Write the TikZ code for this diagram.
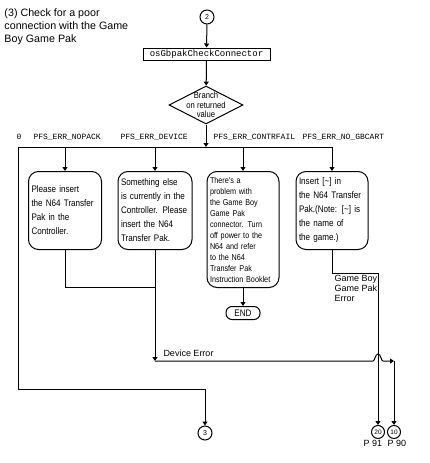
\documentclass[tikz,border=0pt]{standalone}
\usepackage{fontspec}
\setmainfont{Liberation Sans}
\setmonofont{Liberation Mono}
\newfontfamily\narrowfont[FakeStretch=0.85]{Liberation Sans}
\usetikzlibrary{arrows.meta,shapes.geometric,positioning}

\begin{document}
\begin{tikzpicture}[x=1pt,y=-1pt,line width=1pt,
  arr/.style={-{Triangle[length=4pt,width=5pt]}},
  msgbox/.style={draw,rounded corners=10pt,anchor=north,inner xsep=3pt,inner ysep=2pt,
    align=left,font=\narrowfont\fontsize{9.5}{14}\selectfont,minimum height=78pt},
  conn/.style={draw,circle,inner sep=0pt,minimum size=14pt,font=\fontsize{7}{8}\selectfont},
  code/.style={font=\ttfamily\fontsize{8}{10}\selectfont,anchor=base west,inner sep=0pt},
  plain/.style={inner sep=0pt,align=left}]

\useasboundingbox (0,0) rectangle (429,463);

\def \Bus{147}
\def \Top{171}
\def \Jx{378}
\def \Dy{361}

\node[plain,anchor=north west,font=\fontsize{10.7}{13}\selectfont] (title) at (4,8)
  {(3) Check for a poor\\connection with the Game\\Boy Game Pak};

\node[conn] (c2) at (207,17) {2};
\node[draw,minimum width=127pt,minimum height=12pt,inner sep=0pt,
  font=\ttfamily\fontsize{9}{10}\selectfont] (check) at (206.5,54) {osGbpakCheckConnector};
\node[draw,diamond,minimum width=74pt,minimum height=38pt,inner sep=0pt] (branch) at (206,105) {};
\node[plain,align=center,font=\narrowfont\fontsize{9}{9.5}\selectfont] (branchtxt) at (206,105)
  {Branch\\on returned\\value};

\draw[arr] (c2) -- (check);
\draw[arr] (check) -- (branch);

\coordinate (busL) at (18,\Bus);
\coordinate (busR) at (332,\Bus);
\draw (busL) -- (busR);
\draw[arr] (branch.south) -- (branch.south |- busL);

\node[code] (lzero) at (16,139) {0};
\node[code] (lnopack) at (33,139) {PFS\_ERR\_NOPACK};
\node[code] (ldevice) at (120,139) {PFS\_ERR\_DEVICE};
\node[code] (lcontr) at (213,139) {PFS\_ERR\_CONTRFAIL};
\node[code] (lgbcart) at (302,139) {PFS\_ERR\_NO\_GBCART};

\node[msgbox,text width=67pt] (nopack) at (65,\Top)
  {Please insert\\the N64 Transfer\\Pak in the\\Controller.};
\node[msgbox,text width=68pt] (device) at (155,\Top)
  {Something else\\is currently in the\\Controller. Please\\insert the N64\\Transfer Pak.};
\node[msgbox,text width=66pt,minimum height=116pt,font=\narrowfont\fontsize{8.5}{11}\selectfont] (contr) at (243,\Top)
  {There's a\\problem with\\the Game Boy\\Game Pak\\connector. Turn\\off power to the\\N64 and refer\\to the N64\\Transfer Pak\\Instruction Booklet};
\node[msgbox,text width=66pt] (gbcart) at (332,\Top)
  {Insert [\textasciitilde] in\\the N64 Transfer\\Pak.(Note: [\textasciitilde] is\\the name of\\the game.)};

\foreach \b in {nopack,device,contr,gbcart}
  \draw[arr] (\b.north |- busL) -- (\b.north);

\node[draw,rounded corners=6pt,minimum width=34pt,minimum height=13pt,inner sep=0pt,
  font=\narrowfont\fontsize{9.5}{10}\selectfont] (end) at (243,313) {END};
\draw[arr] (contr.south) -- (end.north);

\node[conn] (c3) at (205,433) {3};
\node[conn,minimum size=13pt,font=\fontsize{6.5}{7}\selectfont] (c20) at (\Jx,432) {20};
\node[conn,minimum size=13pt,font=\fontsize{6.5}{7}\selectfont] (c10) at (394,432) {10};
\node[plain,font=\fontsize{9}{10}\selectfont,below=1pt of c20,xshift=-5pt] (pninetyone) {P 91};
\node[plain,font=\fontsize{9}{10}\selectfont,below=1pt of c10,xshift=3pt] (pninety) {P 90};

\draw[arr] (busL) |- (c3.north |- 0,389) -- (c3.north);

\coordinate (merge) at (device.south |- 0,287);
\coordinate (deverr) at (device.south |- 0,\Dy);
\coordinate (turn) at (c10.north |- 0,\Dy);
\draw (nopack.south) |- (merge);
\draw[arr] (device.south) -- (deverr);
\node[plain,anchor=base west,font=\fontsize{9}{10}\selectfont] (devlbl) at (163,356) {Device Error};
\draw[arr] (deverr) -- (\Jx-5,\Dy) .. controls (\Jx-3,\Dy) and (\Jx-3,\Dy-7) .. (\Jx,\Dy-7)
  .. controls (\Jx+3,\Dy-7) and (\Jx+3,\Dy) .. (\Jx+5,\Dy) -- (turn);
\draw[arr] (turn) -- (c10.north);

\draw[arr] (gbcart.south) |- (c20.north |- 0,273) -- (c20.north);
\node[plain,anchor=north west,font=\fontsize{9}{10}\selectfont] (gblbl) at (334,275)
  {Game Boy\\Game Pak\\Error};

\end{tikzpicture}
\end{document}
